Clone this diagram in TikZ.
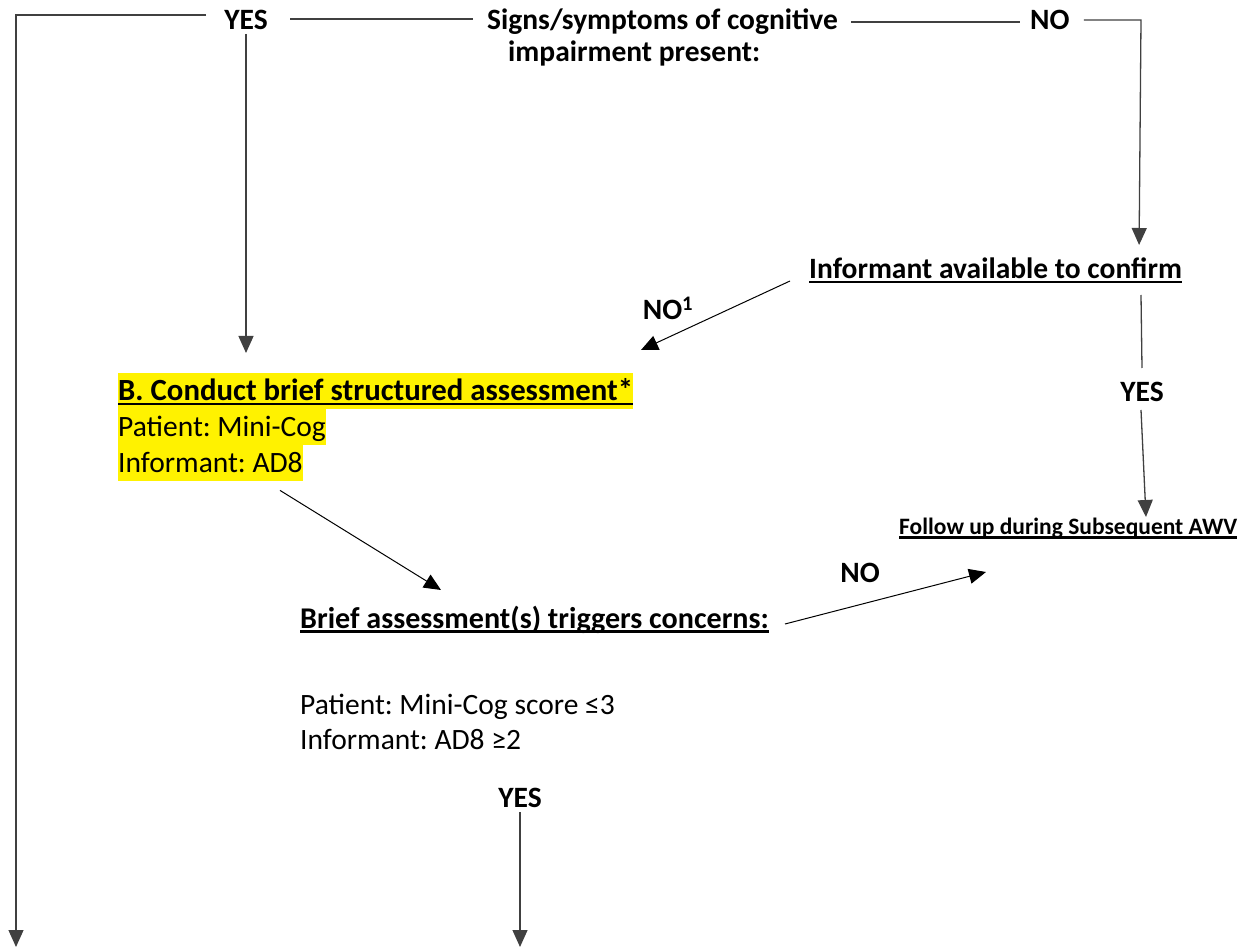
\documentclass[tikz,border=0pt]{standalone}
\usepackage{fontspec}
\setmainfont{Carlito}
\usetikzlibrary{arrows.meta,calc}
\setlength{\fboxsep}{0pt}
\frenchspacing
\newcommand\myul[1]{\setbox0=\hbox{#1}\rlap{\rule[-4.5pt]{\wd0}{2.2pt}}\box0}
\newcommand\hlstrut{\rule[-8.5pt]{0pt}{36pt}}
\newcommand\hlline[1]{\colorbox{yellow}{\hlstrut#1}}
\begin{document}
\begin{tikzpicture}[x=1pt,y=-1pt,
  lbl/.style={font=\fontsize{29.5}{36}\selectfont\bfseries, inner sep=0pt},
  small/.style={font=\fontsize{23.5}{28}\selectfont\bfseries, inner sep=0pt},
  txt/.style={font=\fontsize{29.5}{36}\selectfont, inner sep=0pt},
  ln/.style={draw=black!75, line width=1.3pt},
  dg/.style={draw=black, line width=1pt},
  arr/.style={-{Triangle[width=15pt,length=17pt]}}]
\useasboundingbox (0,0) rectangle (1251,949);
% nodes
\node[lbl, anchor=base] (yes1) at (246,30) {YES};
\node[lbl, anchor=base west] (signs) at (487,30) {Signs/symptoms of cognitive};
\node[lbl, anchor=base west] (signs2) at (508,62) {impairment present:};
\node[lbl, anchor=base west] (no1) at (1030,30) {NO};
\node[lbl, anchor=base west] (inf) at (809,279) {\myul{Informant available to confirm}};
\node[lbl, anchor=base] (no2) at (668,320) {NO\textsuperscript{1}};
\node[lbl, anchor=base] (yes2) at (1142,402) {YES};
\node[txt, anchor=north west, align=left] (B) at (118,373)
  {\hlline{\fontsize{30.8}{36}\selectfont\bfseries\myul{B. Conduct brief structured assessment*}}\\
   \hlline{Patient: Mini-Cog}\\
   \hlline{Informant: AD8}};
\node[small, anchor=base west] (fol) at (899,534) {\myul{Follow up during Subsequent AWV}};
\node[lbl, anchor=base west, font=\fontsize{30.1}{36}\selectfont\bfseries] (brief) at (300,628) {\myul{Brief assessment(s) triggers concerns:}};
\node[lbl, anchor=base] (no3) at (860,582) {NO};
\node[txt, anchor=base west] (pat) at (300,714) {Patient: Mini-Cog score ≤3};
\node[txt, anchor=base west] (infm) at (300,749) {Informant: AD8 ≥2};
\node[lbl, anchor=base] (yes3) at (520,807) {YES};
% corner coordinates
\coordinate (tl) at (16,15);
\coordinate (bl) at (16,947);
\coordinate (tr) at (1141,20);
% top connectors
\draw[ln,arr] ($(yes1.base)+(-40,-15)$) -- (tl) -- (bl);
\draw[ln] ($(yes1.base)+(44,-11)$) -- ($(signs.base west)+(-14,-11)$);
\draw[ln] ($(signs.base east)+(13,-8)$) -- ($(no1.base west)+(-10,-8)$);
\draw[ln,arr] ($(no1.base east)+(14,-10)$) -- (tr) -- ($(inf.base east)+(-43,-34)$);
\draw[ln,arr] ($(yes1.base)+(0,4)$) -- ($(B.north west)+(128,-20)$);
% informant branch
\draw[dg,arr] ($(inf.base west)+(-19,2)$) -- ($(B.north west)+(523,-23)$);
\draw[ln] (tr |- {$(inf.base east)+(0,16)$}) -- ($(yes2.base)+(0,-34)$);
\draw[ln,arr] ($(yes2.base)+(-1,8)$) -- ($(fol.base west)+(247,-17)$);
% assessment branch
\draw[dg,arr] ($(B.south west)+(162,9)$) -- ($(brief.base west)+(141,-38)$);
\draw[dg,arr] ($(brief.base west)+(485,-4)$) -- ($(fol.base west)+(87,38)$);
\draw[ln,arr] ($(yes3.base)+(0,5)$) -- ($(yes3.base)+(0,140)$);
\end{tikzpicture}
\end{document}
